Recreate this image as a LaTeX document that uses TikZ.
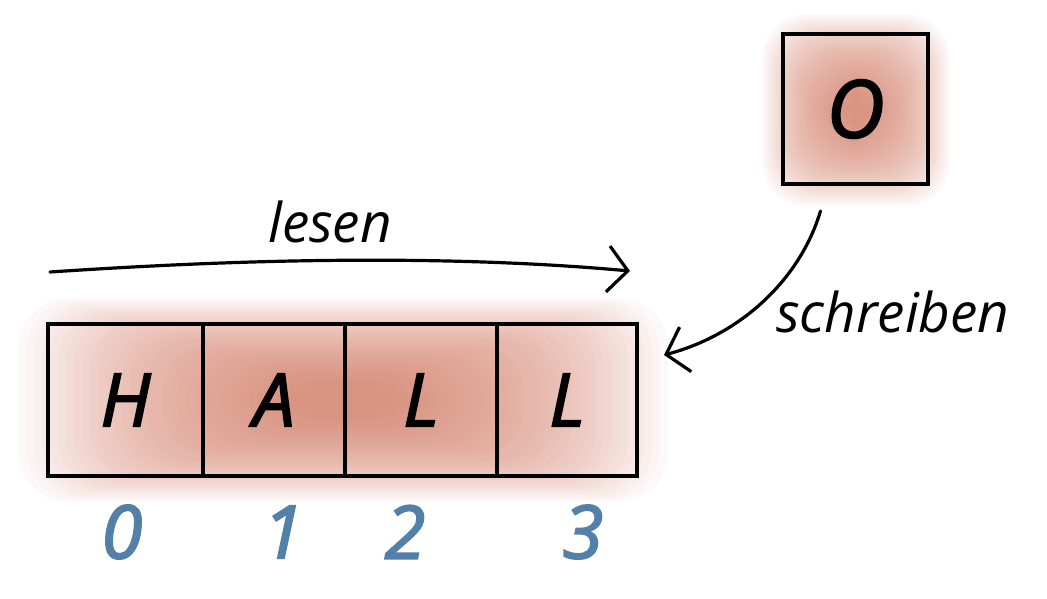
\documentclass[tikz,border=0pt]{standalone}
\usepackage{fontspec}
\setmainfont{Open Sans}
\newfontfamily\handfont{Open Sans}[FakeBold=2.5, ItalicFeatures={FakeBold=2.5}]
\usetikzlibrary{arrows.meta,calc}
\definecolor{salm}{RGB}{205,112,88}
\definecolor{idx}{RGB}{82,128,168}
\tikzset{
  cell/.style={draw=black, line width=4bp, minimum height=152bp, inner sep=0pt,
    font=\fontsize{74}{80}\handfont\itshape},
  idxlab/.style={text=idx, font=\fontsize{74}{80}\handfont\itshape, inner sep=0pt},
  lab/.style={font=\fontsize{55}{62}\selectfont\itshape, inner sep=0pt},
  sketch/.style={line width=3.2bp, line cap=round, line join=round},
  barb/.style={-{Straight Barb[length=20bp,width=46bp,line width=3.2bp]}},
  glowlayer/.style={fill=salm, fill opacity=0.04, draw=none},
}
\begin{document}
\begin{tikzpicture}[x=1bp,y=-1bp]
\useasboundingbox (0,0) rectangle (1047,599);
% glow of the array
\foreach \k in {0,...,34}{
  \fill[glowlayer, rounded corners=50bp]
    ($(18,298)+(\k*8,\k*2.5)$) rectangle ($(668,502)-(\k*8,\k*2.5)$);
}
% glow of the single box
\foreach \k in {0,...,34}{
  \fill[glowlayer, rounded corners=45bp]
    ($(762,14)+(\k*2.4,\k*2.4)$) rectangle ($(950,206)-(\k*2.4,\k*2.4)$);
}
% array cells
\node[cell, minimum width=155bp] (c0) at (125.5,400) {H};
\node[cell, minimum width=142bp] (c1) at (274,400) {A};
\node[cell, minimum width=152bp] (c2) at (421,400) {L};
\node[cell, minimum width=140bp] (c3) at (567,400) {L};
% indices
\node[idxlab] (i0) at (122,532) {0};
\node[idxlab] (i1) at (283,532) {1};
\node[idxlab] (i2) at (405,532) {2};
\node[idxlab] (i3) at (583,532) {3};
% single box
\node[cell, minimum width=145bp, minimum height=150bp, font=\fontsize{80}{90}\handfont\itshape] (o) at (855.5,109) {O};
% lesen
\node[lab] (lesen) at (330,222) {lesen};
\coordinate (ls) at (50,272);
\coordinate (le) at (630,271);
\draw[sketch, barb] (ls) .. controls (200,262) and (420,252) .. (le);
% schreiben
\node[lab, anchor=west] (schreiben) at (776,312) {schreiben};
\coordinate (ws) at ($(o.south)+(-35,25)$);
\coordinate (we) at ($(c3.east)+(25,-45)$);
\draw[sketch, barb] (ws) .. controls (800,280) and (740,335) .. (we);
\end{tikzpicture}
\end{document}
